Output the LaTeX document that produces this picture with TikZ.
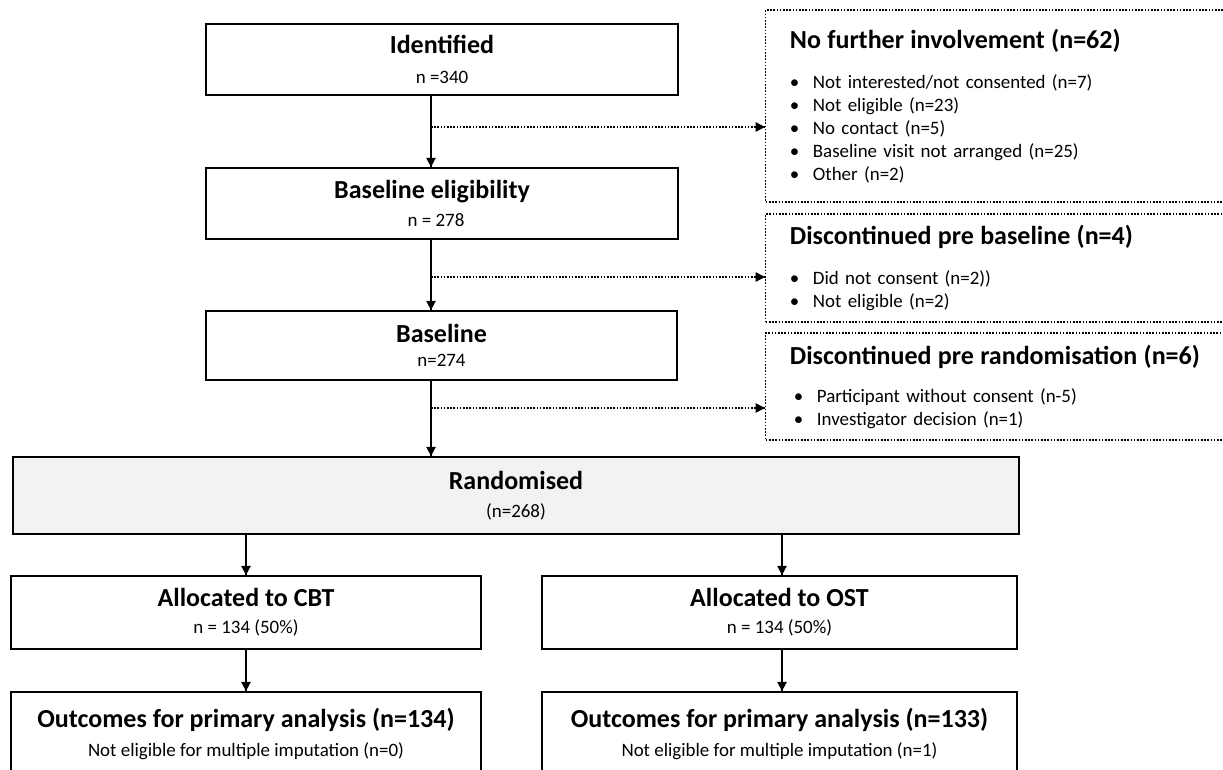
\documentclass[tikz,border=0pt]{standalone}
\usepackage{fontspec}
\setmainfont{Carlito}
\usetikzlibrary{decorations.markings,arrows.meta}
\newcommand{\pix}{*0.75pt}
\newcommand{\ttlfont}{\fontsize{19.5}{23}\selectfont\bfseries}
\newcommand{\txtfont}{\fontsize{14.2}{17.25}\selectfont}
\newcommand{\bul}{\makebox[17.25pt][l]{\textbullet}}

\begin{document}
\begin{tikzpicture}[x=0.75pt, y=-0.75pt,
  box/.style={draw, line width=1.3pt, align=center, font=\txtfont, inner sep=0pt},
  outbox/.style={draw, line width=1.1pt, dash pattern=on 1.2pt off 1.2pt, align=left, font=\txtfont,
    inner xsep=18pt, inner ysep=0pt, text width=320pt, minimum width=475\pix, anchor=west},
  flow/.style={line width=1.1pt, decoration={markings,mark=at position 1 with {\arrow{Triangle[length=7pt,width=7pt]}}}, postaction={decorate}},
  side/.style={flow, dash pattern=on 1.2pt off 1.2pt}]
\useasboundingbox (0,0) rectangle (1223,770);
\clip (0,0) rectangle (1223,770);

\node[box, minimum width=472\pix, minimum height=71\pix] (1) at (442,59.5) {{\ttlfont Identified}\\[4.75pt]n =340};
\node[box, minimum width=472\pix, minimum height=71\pix] (2) at (442,203.5) {{\ttlfont Baseline eligibility}\hspace*{15pt}\\[3.4pt]n = 278\hspace*{9pt}};
\node[box, minimum width=471\pix, minimum height=69\pix] (3) at (441.5,345.5) {{\ttlfont Baseline}\\[0.5pt]n=274};
\node[box, fill=black!5, minimum width=1006\pix, minimum height=77\pix] (4) at (516,495.5) {{\ttlfont Randomised}\\[4pt](n=268)};
\node[box, minimum width=470\pix, minimum height=73\pix] (5) at (246,612.5) {{\ttlfont Allocated to CBT}\\[2.75pt]n = 134 (50\%)};
\node[box, minimum width=475\pix, minimum height=73\pix] (6) at (779.5,612.5) {{\ttlfont Allocated to OST}\\[2.75pt]n = 134 (50\%)};
\node[box, minimum width=470\pix, minimum height=84\pix] (7) at (246,734) {{\ttlfont Outcomes for primary analysis (n=134)}\\[4.75pt]Not eligible for multiple imputation (n=0)};
\node[box, minimum width=475\pix, minimum height=84\pix] (8) at (779.5,734) {{\ttlfont Outcomes for primary analysis (n=133)}\\[4.75pt]Not eligible for multiple imputation (n=1)};

% exclusions
\node[outbox, minimum height=192\pix] (e1) at (765,106) {{\ttlfont No further involvement (n=62)}\\[12.75pt]
  \bul Not interested/not consented (n=7)\\
  \bul Not eligible (n=23)\\
  \bul No contact (n=5)\\
  \bul Baseline visit not arranged (n=25)\\
  \bul Other (n=2)};
\node[outbox, minimum height=108\pix] (e2) at (765,268) {{\ttlfont Discontinued pre baseline (n=4)}\\[12.75pt]
  \bul Did not consent (n=2))\\
  \bul Not eligible (n=2)};
\node[outbox, minimum height=107\pix] (e3) at (765,386.5) {{\ttlfont Discontinued pre randomisation (n=6)}\\[11.25pt]
  \hspace*{3pt}\bul Participant without consent (n-5)\\
  \hspace*{3pt}\bul Investigator decision (n=1)};

\coordinate (c1) at (431,0);
\coordinate (c2) at (246,0);
\coordinate (c3) at (782,0);
\coordinate (b1) at (431,127);
\coordinate (b2) at (431,277);
\coordinate (b3) at (431,408);

\draw[flow] (1.south -| c1) to (2.north -| c1);
\draw[flow] (2.south -| c1) to (3.north -| c1);
\draw[flow] (3.south -| c1) to (4.north -| c1);
\draw[flow] (4.south -| c2) to (5.north -| c2);
\draw[flow] (4.south -| c3) to (6.north -| c3);
\draw[flow] (5.south -| c2) to (7.north -| c2);
\draw[flow] (6.south -| c3) to (8.north -| c3);
\draw[side] (b1) to (e1.west |- b1);
\draw[side] (b2) to (e2.west |- b2);
\draw[side] (b3) to (e3.west |- b3);
\end{tikzpicture}
\end{document}
